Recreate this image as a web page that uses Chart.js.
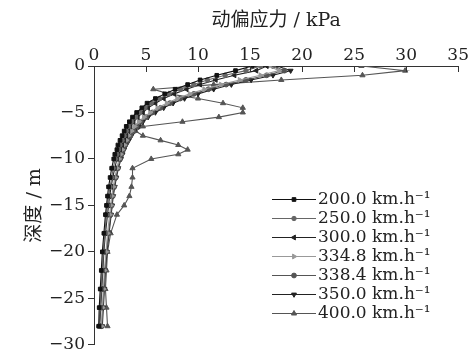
<!DOCTYPE html>
<html>
<head>
<meta charset="utf-8">
<script src="https://cdn.jsdelivr.net/npm/chart.js@4.4.1/dist/chart.umd.min.js"></script>
<style>
  html, body { margin: 0; padding: 0; background: #fff; }
  canvas { display: block; }
</style>
</head>
<body>
<canvas id="chart" width="469" height="358"></canvas>
<script>
// ---- datos ----
const depths = [0, -0.5, -1, -1.5, -2, -2.5, -3, -3.5, -4, -4.5, -5, -5.5, -6, -6.5, -7, -7.5, -8, -8.5, -9, -9.5,
                -10, -11, -12, -13, -14, -15, -16, -18, -20, -22, -24, -26, -28];

const speedLabels = ['200.0 km.h⁻¹', '250.0 km.h⁻¹', '300.0 km.h⁻¹', '334.8 km.h⁻¹',
                     '338.4 km.h⁻¹', '350.0 km.h⁻¹', '400.0 km.h⁻¹'];

const stress200 = [15.2, 13.6, 11.8, 10.2, 9.0, 7.8, 6.8, 5.9, 5.1, 4.6, 4.1, 3.7, 3.4, 3.1, 2.9, 2.7, 2.5, 2.3, 2.2, 2.0,
                   1.9, 1.7, 1.55, 1.4, 1.3, 1.2, 1.1, 0.95, 0.8, 0.7, 0.6, 0.5, 0.45];
const stress250 = [16.0, 14.6, 12.6, 10.9, 9.6, 8.3, 7.2, 6.3, 5.5, 4.9, 4.4, 4.0, 3.6, 3.3, 3.1, 2.9, 2.7, 2.5, 2.35, 2.2,
                   2.05, 1.85, 1.7, 1.55, 1.4, 1.3, 1.2, 1.05, 0.9, 0.8, 0.7, 0.6, 0.5];
const stress300 = [16.6, 15.6, 13.5, 11.7, 10.2, 8.9, 7.7, 6.7, 5.9, 5.2, 4.7, 4.2, 3.8, 3.5, 3.3, 3.1, 2.9, 2.7, 2.5, 2.35,
                   2.2, 2.0, 1.8, 1.65, 1.5, 1.4, 1.3, 1.1, 0.95, 0.85, 0.75, 0.65, 0.55];
const stress3348 = [16.8, 17.8, 16.0, 14.0, 12.2, 10.6, 9.2, 8.0, 7.0, 6.1, 5.4, 4.8, 4.3, 3.9, 3.6, 3.3, 3.1, 2.9, 2.7, 2.55,
                    2.4, 2.2, 2.0, 1.85, 1.7, 1.6, 1.5, 1.3, 1.15, 1.0, 0.9, 0.8, 0.7];
const stress3384 = [17.2, 18.3, 16.6, 14.6, 12.7, 11.0, 9.6, 8.3, 7.3, 6.4, 5.6, 5.0, 4.5, 4.1, 3.8, 3.5, 3.2, 3.0, 2.8, 2.65,
                    2.5, 2.3, 2.1, 1.95, 1.8, 1.7, 1.6, 1.4, 1.2, 1.05, 0.95, 0.85, 0.75];
const stress350 = [17.6, 18.9, 17.2, 15.1, 13.2, 11.5, 10.0, 8.7, 7.6, 6.7, 5.9, 5.2, 4.7, 4.3, 3.9, 3.6, 3.35, 3.1, 2.9, 2.75,
                   2.6, 2.35, 2.15, 2.0, 1.85, 1.75, 1.65, 1.45, 1.25, 1.1, 1.0, 0.9, 0.8];
const stress400 = [25.7, 29.9, 25.8, 18.0, 11.5, 5.7, 7.2, 10.0, 12.4, 14.3, 14.3, 12.0, 8.5, 4.7, 4.0, 4.7, 6.4, 8.1, 9.0, 8.1,
                   5.5, 3.7, 3.7, 3.6, 3.4, 2.9, 2.2, 1.6, 1.3, 1.2, 1.1, 1.2, 1.3];

const xTicks = [0, 5, 10, 15, 20, 25, 30, 35];
const yTicks = [0, -5, -10, -15, -20, -25, -30];

// ---- estilos ----
const seriesStyles = [
    { color: '#111', pointStyle: 'rect',     rotation: 0,   radius: 2.6 },
    { color: '#666', pointStyle: 'circle',   rotation: 0,   radius: 2.2 },
    { color: '#222', pointStyle: 'triangle', rotation: -90, radius: 2.8 },
    { color: '#999', pointStyle: 'triangle', rotation: 90,  radius: 2.8 },
    { color: '#555', pointStyle: 'circle',   rotation: 0,   radius: 2.4 },
    { color: '#222', pointStyle: 'triangle', rotation: 180, radius: 2.8 },
    { color: '#555', pointStyle: 'triangle', rotation: 0,   radius: 3.0 }
];
const allSeries = [stress200, stress250, stress300, stress3348, stress3384, stress350, stress400];

const SERIF = '"DejaVu Serif", "Noto Sans CJK SC", serif';

function toPoints(values) {
    return values.map((v, i) => ({ x: v, y: depths[i] }));
}

const datasets = allSeries.map((values, i) => ({
    label: speedLabels[i],
    data: toPoints(values),
    borderColor: seriesStyles[i].color,
    backgroundColor: seriesStyles[i].color,
    borderWidth: 1.1,
    pointStyle: seriesStyles[i].pointStyle,
    pointRotation: seriesStyles[i].rotation,
    pointRadius: seriesStyles[i].radius,
    pointBorderWidth: 1,
    showLine: true,
    tension: 0
}));

// ticks hacia dentro en el eje superior
const innerTicks = {
    id: 'innerTicks',
    afterDraw(chart) {
        const { ctx, scales: { x }, chartArea } = chart;
        ctx.save();
        ctx.strokeStyle = '#333';
        ctx.lineWidth = 1;
        xTicks.forEach(v => {
            if (v === 0) return;
            const px = Math.round(x.getPixelForValue(v)) + 0.5;
            ctx.beginPath();
            ctx.moveTo(px, chartArea.top);
            ctx.lineTo(px, chartArea.top + 6);
            ctx.stroke();
        });
        ctx.restore();
    }
};

// leyenda dentro del área del gráfico
const innerLegend = {
    id: 'innerLegend',
    afterDraw(chart) {
        const { ctx } = chart;
        const x0 = 272, x1 = 316, yStart = 199, rowH = 19;
        ctx.save();
        chart.data.datasets.forEach((ds, i) => {
            const y = yStart + i * rowH;
            ctx.strokeStyle = ds.borderColor;
            ctx.fillStyle = ds.borderColor;
            ctx.lineWidth = 1;
            ctx.beginPath();
            ctx.moveTo(x0, y + 0.5);
            ctx.lineTo(x1, y + 0.5);
            ctx.stroke();
            Chart.helpers.drawPoint(ctx, {
                pointStyle: ds.pointStyle,
                rotation: ds.pointRotation,
                radius: ds.pointRadius,
                borderWidth: 1
            }, (x0 + x1) / 2, y + 0.5);
            ctx.fillStyle = '#222';
            ctx.font = '17px ' + SERIF;
            ctx.textBaseline = 'middle';
            ctx.textAlign = 'left';
            ctx.fillText(ds.label, x1 + 2, y + 1);
        });
        ctx.restore();
    }
};

const ctx = document.getElementById('chart').getContext('2d');
new Chart(ctx, {
    type: 'scatter',
    data: { datasets: datasets },
    plugins: [innerTicks, innerLegend],
    options: {
        responsive: false,
        animation: false,
        devicePixelRatio: 1,
        layout: { padding: { left: 0, top: 0, right: 10, bottom: 10 } },
        plugins: {
            legend: { display: false },
            tooltip: { enabled: false }
        },
        scales: {
            x: {
                type: 'linear',
                position: 'top',
                min: 0,
                max: 35,
                afterBuildTicks: s => { s.ticks = xTicks.map(v => ({ value: v })); },
                afterFit: s => { s.height = 66; },
                ticks: { color: '#222', font: { family: SERIF, size: 17 }, padding: 0 },
                grid: { drawOnChartArea: false, drawTicks: false },
                border: { color: '#333', width: 1 },
                title: {
                    display: true,
                    text: '动偏应力 / kPa',
                    color: '#222',
                    font: { family: SERIF, size: 19 },
                    padding: { top: 10, bottom: 0 }
                }
            },
            y: {
                type: 'linear',
                min: -30,
                max: 0,
                afterBuildTicks: s => { s.ticks = yTicks.map(v => ({ value: v })); },
                afterFit: s => { s.width = 94; },
                ticks: {
                    color: '#222',
                    font: { family: SERIF, size: 17 },
                    padding: 3,
                    callback: v => (v < 0 ? '\u2212' + Math.abs(v) : String(v))
                },
                grid: { drawOnChartArea: false, tickLength: 6, color: '#333' },
                border: { color: '#333', width: 1 },
                title: {
                    display: true,
                    text: '深度 / m',
                    color: '#222',
                    font: { family: SERIF, size: 19 },
                    padding: { top: 24, bottom: 0 }
                }
            }
        }
    }
});
</script>
</body>
</html>
